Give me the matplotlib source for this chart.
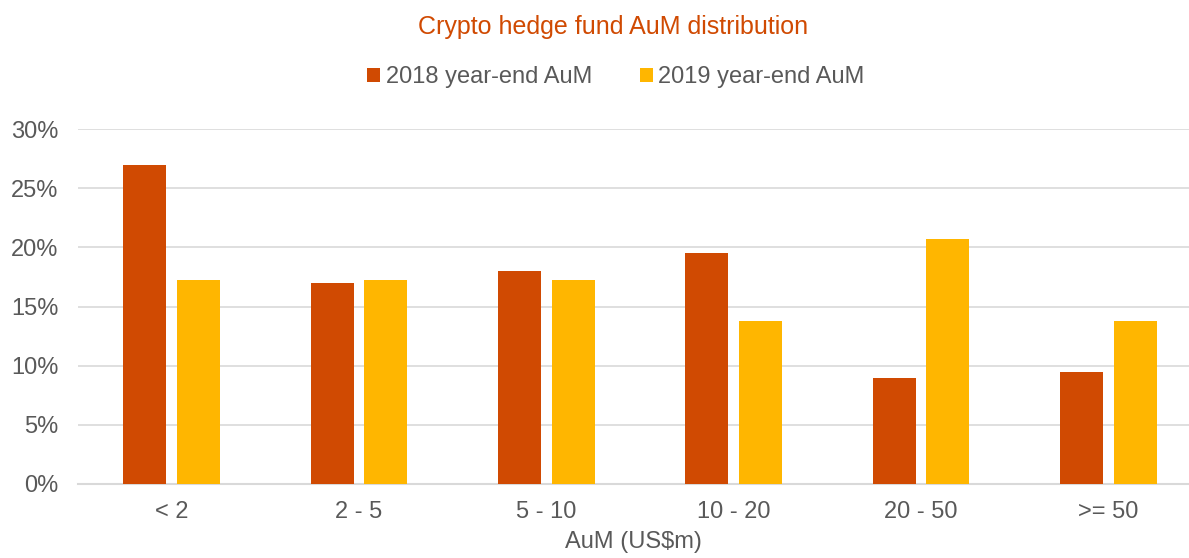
import numpy as np
import matplotlib.pyplot as plt
from matplotlib.ticker import PercentFormatter

plt.rcParams['font.family'] = ['Liberation Sans', 'DejaVu Sans']

# dane
kategorie = ["< 2", "2 - 5", "5 - 10", "10 - 20", "20 - 50", ">= 50"]
aum_2018 = [27.0, 17.0, 18.0, 19.5, 9.0, 9.5]
aum_2019 = [17.2, 17.2, 17.2, 13.8, 20.7, 13.8]
serie = ["2018 year-end AuM", "2019 year-end AuM"]

kolor_2018 = "#D04A02"
kolor_2019 = "#FFB600"
szary = "#595959"
siatka = "#D9D9D9"
fs = 17

fig = plt.figure(figsize=(11.89, 5.58), dpi=100)
ax = fig.add_axes([78 / 1189, 74 / 558, 1111 / 1189, 355 / 558])

x = np.arange(len(kategorie))
szer = 0.23
ax.bar(x - 0.143, aum_2018, szer, color=kolor_2018, label=serie[0], zorder=3)
ax.bar(x + 0.143, aum_2019, szer, color=kolor_2019, label=serie[1], zorder=3)

ax.set_xlim(-0.5, 5.43)
ax.set_ylim(0, 30)
ax.set_yticks(np.arange(0, 31, 5))
ax.yaxis.set_major_formatter(PercentFormatter(decimals=0))
ax.set_xticks(x)
ax.set_xticklabels(kategorie)
ax.grid(axis='y', color=siatka, linewidth=1.2, zorder=0)
for s in ["top", "right", "left"]:
    ax.spines[s].set_visible(False)
ax.spines["bottom"].set_color(siatka)
ax.spines["bottom"].set_linewidth(1.5)
ax.tick_params(axis='both', length=0, labelsize=fs, labelcolor=szary)
ax.tick_params(axis='x', pad=12)
ax.tick_params(axis='y', pad=14)
ax.set_xlabel("AuM (US$m)", fontsize=fs, color=szary, labelpad=6)

fig.text(0.5155, 1 - 27 / 558, "Crypto hedge fund AuM distribution",
         ha='center', va='center', fontsize=18, color=kolor_2018)
fig.legend(loc='center', bbox_to_anchor=(616 / 1189, 1 - 77 / 558), ncol=2,
           frameon=False, fontsize=fs, labelcolor=szary, handlelength=0.55,
           handleheight=0.55, handletextpad=0.25, columnspacing=2.0)

fig.savefig("out.png", dpi=100)
